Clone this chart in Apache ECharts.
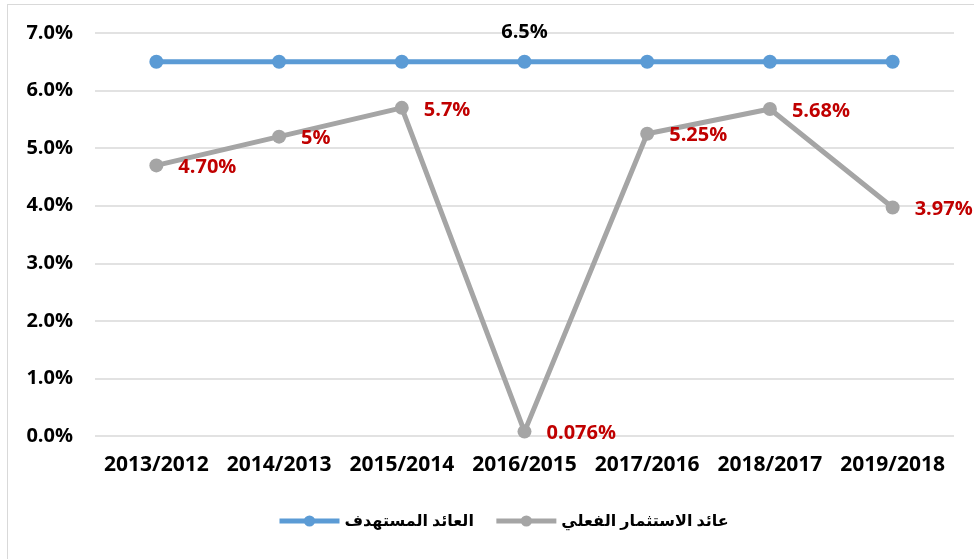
<!DOCTYPE html>
<html lang="ar">
<head>
    <meta charset="UTF-8">
    <title>Chart</title>
    <script src="https://cdn.jsdelivr.net/npm/echarts@6/dist/echarts.min.js"></script>
    <style>
        html, body { margin: 0; padding: 0; background: #fff; }
        #frame { position: absolute; left: 7px; top: 4px; width: 1000px; height: 600px; border: 1px solid #d9d9d9; }
        #app { position: absolute; left: 0; top: 0; width: 974px; height: 559px; }
    </style>
</head>
<body>
    <div id="frame"></div>
    <div id="app"></div>
    <script>
        const years = ['2013/2012', '2014/2013', '2015/2014', '2016/2015', '2017/2016', '2018/2017', '2019/2018'];
        const target = [6.5, 6.5, 6.5, 6.5, 6.5, 6.5, 6.5];
        const actual = [4.70, 5.2, 5.7, 0.076, 5.25, 5.68, 3.97];
        const actualLabels = ['4.70%', '5%', '5.7%', '0.076%', '5.25%', '5.68%', '3.97%'];
        const targetLabels = ['', '', '', '6.5%', '', '', ''];
        const names = ['العائد المستهدف', 'عائد الاستثمار الفعلي'];

        const font = '"Open Sans", "DejaVu Sans", sans-serif';

        const chart = echarts.init(document.getElementById('app'));

        const option = {
            backgroundColor: 'transparent',
            animation: false,
            grid: { left: 95, right: 20, top: 33, bottom: 123 },
            legend: {
                bottom: 25,
                left: 272,
                itemWidth: 60,
                itemHeight: 14,
                itemGap: 20,
                lineStyle: { width: 5 },
                textStyle: { fontFamily: 'Noto Sans, DejaVu Sans, sans-serif', fontWeight: 'bold', fontSize: 16, color: '#000' },
                data: names
            },
            xAxis: {
                type: 'category',
                data: years,
                boundaryGap: true,
                axisLine: { show: false },
                axisTick: { show: false },
                axisLabel: { interval: 0, color: '#000', fontFamily: font, fontWeight: 'bold', fontSize: 21, margin: 19 }
            },
            yAxis: {
                type: 'value',
                min: 0,
                max: 7,
                interval: 1,
                axisLine: { show: false },
                axisTick: { show: false },
                splitLine: { lineStyle: { color: '#d9d9d9', width: 1.5 } },
                axisLabel: {
                    color: '#000', fontFamily: font, fontWeight: 'bold', fontSize: 20, margin: 22,
                    formatter: v => v.toFixed(1) + '%'
                }
            },
            series: [
                {
                    name: names[0],
                    type: 'line',
                    data: target,
                    symbol: 'circle',
                    symbolSize: 14,
                    lineStyle: { color: '#5b9bd5', width: 5 },
                    itemStyle: { color: '#5b9bd5' },
                    label: {
                        show: true,
                        position: 'top',
                        distance: 12,
                        color: '#000',
                        fontFamily: font,
                        fontWeight: 'bold',
                        fontSize: 20,
                        formatter: p => targetLabels[p.dataIndex]
                    }
                },
                {
                    name: names[1],
                    type: 'line',
                    data: actual,
                    symbol: 'circle',
                    symbolSize: 14,
                    lineStyle: { color: '#a5a5a5', width: 5 },
                    itemStyle: { color: '#a5a5a5' },
                    label: {
                        show: true,
                        position: 'right',
                        distance: 15,
                        offset: [0, 2],
                        color: '#c00000',
                        fontFamily: font,
                        fontWeight: 'bold',
                        fontSize: 20,
                        formatter: p => actualLabels[p.dataIndex]
                    }
                }
            ]
        };

        chart.setOption(option);
    </script>
</body>
</html>
